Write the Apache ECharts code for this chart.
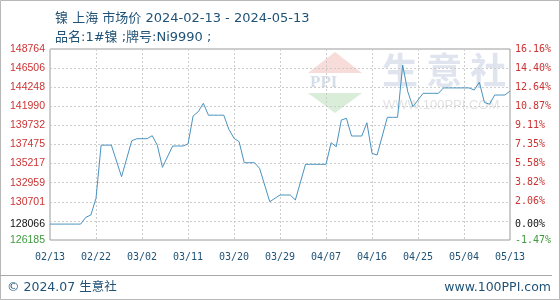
<!DOCTYPE html>
<html>
<head>
<meta charset="utf-8">
<script src="https://cdn.jsdelivr.net/npm/echarts@6/dist/echarts.min.js"></script>
<style>
html,body{margin:0;padding:0;background:#fff;}
#chart{width:560px;height:300px;}
</style>
</head>
<body>
<div id="chart"></div>
<script>
// ---- data ----
var startDate = '2024-02-13';
var dayCount = 91;
var categories = [];
(function () {
  var d = new Date(startDate + 'T00:00:00Z');
  for (var i = 0; i < dayCount; i++) {
    var m = String(d.getUTCMonth() + 1).padStart(2, '0');
    var dd = String(d.getUTCDate()).padStart(2, '0');
    categories.push(m + '/' + dd);
    d.setUTCDate(d.getUTCDate() + 1);
  }
})();

// daily price readings (null = day lying on a straight segment, not read)
var prices = [
  128066, 128066, 128066, 128066, 128066, 128066, 128066, 128868, 129140, 131114,
  137400, 137400, 137400, null,   133667, null,   137922, 138159, 138159, 138159,
  138513, 137379, 134778, null,   137296, 137296, 137296, 137532, 140842, 141350,
  142343, 140940, 140940, 140940, 140940, 139270, 138206, 137804, 135322, 135322,
  135322, 134660, null,   130712, null,   131504, 131504, 131504, 130913, null,
  135133, 135133, 135133, 135133, 135133, 137686, 137213, 140369, 140570, 138478,
  138478, 138478, 140050, 136433, 136232, null,   140688, 140688, 140688, 146870,
  143714, 141941, null,   143525, 143525, 143525, 143525, 144163, 144163, 144163,
  144163, 144163, 144163, 143915, 144837, 142438, 142237, 143324, 143324, 143324,
  143797
];

var basePrice = 128066;
var yMin = 126185;
var yMax = 148764;
var yLabelValues = [126185, 128066, 130701, 132959, 135217, 137475, 139732, 141990, 144248, 146506, 148764];
var yGridValues = [128443, 130701, 132959, 135217, 137475, 139732, 141990, 144248, 146506];

var titleText = '镍 上海 市场价 2024-02-13 - 2024-05-13';
var subTitleText = '品名:1#镍 ;牌号:Ni9990 ;';
var footLeft = '© 2024.07 生意社';
var footRight = 'www.100PPI.com';

// ---- chart ----
var chart = echarts.init(document.getElementById('chart'), null, {renderer: 'canvas'});
var txtColor = '#1f5276';
var mixFont = '"DejaVu Sans", "Noto Sans CJK SC", sans-serif';

function pct(v) { return ((v / basePrice - 1) * 100).toFixed(2) + '%'; }
function labelStyleKey(v) {
  if (Math.abs(v - basePrice) < 1) return 'k';
  if (Math.abs(v - yMin) < 1) return 'g';
  return 'r';
}
var leftFont = '"Liberation Sans", Arial, sans-serif';
var monoFont = '"DejaVu Sans Mono", monospace';
var richLeft = {
  r: {color: '#cc3333', fontFamily: leftFont, fontSize: 10.5},
  k: {color: '#111111', fontFamily: leftFont, fontSize: 10.5},
  g: {color: '#3f9a3f', fontFamily: leftFont, fontSize: 10.5}
};
var richRight = {
  r: {color: '#cc3333', fontFamily: monoFont, fontSize: 10},
  k: {color: '#111111', fontFamily: monoFont, fontSize: 10},
  g: {color: '#3f9a3f', fontFamily: monoFont, fontSize: 10}
};

var option = {
  animation: false,
  backgroundColor: '#ffffff',
  title: [
    {text: titleText, left: 50, top: 7,
     textStyle: {color: txtColor, fontSize: 13, fontWeight: 'normal', fontFamily: mixFont}},
    {text: subTitleText, left: 50, top: 26,
     textStyle: {color: txtColor, fontSize: 13, fontWeight: 'normal', fontFamily: mixFont}}
  ],
  grid: {left: 50, right: 50, top: 49, bottom: 60, show: true, borderColor: '#9a9a9a', borderWidth: 1, containLabel: false},
  graphic: [
    {type: 'rect', silent: true, z: 100, shape: {x: 0.5, y: 0.5, width: 559, height: 299},
     style: {fill: null, stroke: '#b8b8b8', lineWidth: 1}},
    {type: 'line', silent: true, z: 100, shape: {x1: 0, y1: 275.5, x2: 552, y2: 275.5},
     style: {stroke: '#a8a8a8', lineWidth: 1}},
    {type: 'text', left: 7, top: 281, silent: true,
     style: {text: footLeft, fill: txtColor, font: '12.5px ' + mixFont}},
    {type: 'text', right: 9, top: 281, silent: true,
     style: {text: footRight, fill: txtColor, font: '12.5px ' + mixFont}},
    // faint watermark
    {type: 'polygon', silent: true, z: 0, shape: {points: [[335, 52], [362, 73], [308, 73]]},
     style: {fill: 'rgba(230,150,140,0.33)'}},
    {type: 'text', silent: true, z: 0, left: 310, top: 74,
     style: {text: 'PPI', fill: 'rgba(150,170,200,0.4)', font: 'bold 17px "Liberation Serif", serif', letterSpacing: 4}},
    {type: 'polygon', silent: true, z: 0, shape: {points: [[308, 93], [362, 93], [335, 113]]},
     style: {fill: 'rgba(140,200,140,0.33)'}},
    {type: 'text', silent: true, z: 0, left: 382, top: 52,
     style: {text: '生 意 社', fill: 'rgba(170,185,210,0.38)', font: 'bold 36px "Noto Sans CJK SC", sans-serif'}},
    {type: 'text', silent: true, z: 0, left: 383, top: 99,
     style: {text: 'WWW.100PPI.COM', fill: 'rgba(190,190,190,0.45)', font: '13px "Liberation Sans", sans-serif'}}
  ],
  xAxis: {
    type: 'category',
    data: categories,
    boundaryGap: false,
    axisLine: {show: false},
    axisTick: {show: false},
    axisLabel: {interval: 8, color: txtColor, fontFamily: monoFont, fontSize: 10, margin: 12, showMaxLabel: true, hideOverlap: false},
    splitLine: {show: true, interval: 8, lineStyle: {color: '#cccccc', type: [2, 2], width: 1}}
  },
  yAxis: [
    {
      type: 'value', min: yMin, max: yMax, position: 'left',
      axisLine: {show: false}, axisTick: {show: false}, splitLine: {show: false},
      axisLabel: {
        customValues: yLabelValues, margin: 5,
        formatter: function (v) { return '{' + labelStyleKey(v) + '|' + Math.round(v) + '}'; },
        rich: richLeft
      }
    },
    {
      type: 'value', min: yMin, max: yMax, position: 'right',
      axisLine: {show: false}, axisTick: {show: false}, splitLine: {show: false},
      axisLabel: {
        customValues: yLabelValues, margin: 5,
        formatter: function (v) { return '{' + labelStyleKey(v) + '|' + pct(v) + '}'; },
        rich: richRight
      }
    }
  ],
  series: [
    {
      type: 'line', data: prices, yAxisIndex: 0, connectNulls: true,
      showSymbol: false, symbol: 'none', z: 5,
      lineStyle: {color: '#4a93bf', width: 1},
      markLine: {
        silent: true, symbol: 'none', label: {show: false}, animation: false, z: 1,
        lineStyle: {color: '#cccccc', type: [2, 2], width: 1},
        data: yGridValues.map(function (v) { return {yAxis: v}; })
      }
    }
  ]
};
chart.setOption(option);
</script>
</body>
</html>
